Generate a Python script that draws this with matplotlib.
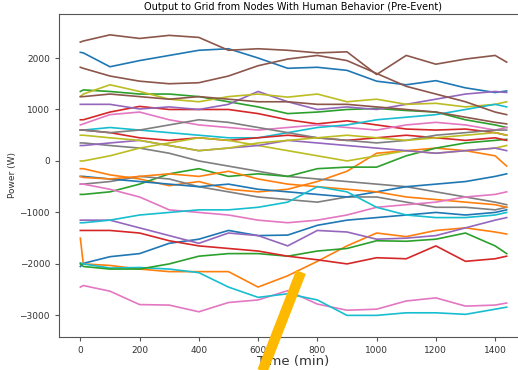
import matplotlib
matplotlib.use("Agg")
import matplotlib.pyplot as plt
from matplotlib.lines import Line2D

time_min = [0, 10, 100, 200, 300, 400, 500, 600, 700, 800, 900, 1000, 1100, 1200, 1300, 1400, 1439]

# node outputs (W), in plotting order (tab10 colour cycle)
blue_a   = [2110, 2100, 1830, 1950, 2050, 2150, 2180, 2000, 1800, 1820, 1760, 1550, 1480, 1560, 1420, 1330, 1360]
orange_a = [-150, -150, -270, -350, -480, -400, -550, -600, -550, -400, -200, 150, 200, 250, 200, 100, -100]
green_a  = [1350, 1380, 1350, 1300, 1300, 1250, 1150, 1050, 920, 950, 1000, 1020, 980, 950, 800, 700, 650]
red_a    = [800, 800, 950, 1060, 1000, 1000, 1000, 920, 800, 720, 780, 700, 620, 600, 620, 550, 500]
purple_a = [1100, 1100, 1100, 1010, 1050, 1000, 1100, 1350, 1150, 1000, 1050, 1000, 1100, 1200, 1300, 1350, 1330]
brown_a  = [2310, 2330, 2450, 2380, 2440, 2400, 2150, 2180, 2150, 2100, 2120, 1680, 2050, 1880, 1980, 2050, 1920]
pink_a   = [700, 720, 900, 950, 800, 700, 650, 600, 650, 700, 650, 600, 700, 750, 700, 600, 650]
gray_a   = [350, 350, 300, 250, 150, 0, -100, -200, -300, -350, -400, -450, -500, -600, -700, -800, -850]
olive_a  = [1250, 1300, 1480, 1350, 1200, 1150, 1250, 1300, 1240, 1300, 1150, 1200, 1100, 1120, 1050, 1100, 1150]
cyan_a   = [600, 600, 650, 600, 550, 500, 450, 450, 550, 650, 700, 800, 850, 900, 1000, 1100, 1050]

blue_b   = [-2050, -1990, -1860, -1800, -1600, -1520, -1350, -1450, -1440, -1250, -1150, -1100, -1050, -1000, -1050, -1000, -950]
orange_b = [-1500, -2000, -2030, -2100, -2150, -2150, -2150, -2450, -2230, -1950, -1650, -1400, -1470, -1350, -1300, -1380, -1420]
green_b  = [-650, -650, -600, -450, -250, -150, -300, -250, -300, -150, -120, -120, 100, 250, 350, 400, 420]
red_b    = [600, 600, 550, 450, 400, 450, 400, 450, 500, 450, 400, 450, 500, 450, 400, 450, 400]
purple_b = [-1150, -1150, -1150, -1300, -1450, -1600, -1400, -1450, -1650, -1350, -1380, -1520, -1500, -1450, -1300, -1150, -1100]
brown_b  = [1820, 1800, 1650, 1550, 1500, 1520, 1650, 1850, 1980, 2050, 1950, 1700, 1450, 1300, 1150, 950, 900]
pink_b   = [-2450, -2420, -2530, -2790, -2800, -2930, -2750, -2700, -2520, -2780, -2900, -2880, -2720, -2660, -2820, -2800, -2760]
gray_b   = [-450, -450, -400, -300, -350, -500, -600, -700, -750, -800, -700, -700, -800, -900, -900, -950, -900]
olive_b  = [0, 0, 100, 250, 350, 450, 400, 300, 200, 100, 0, 100, 200, 150, 200, 250, 300]
cyan_b   = [-1980, -2000, -2080, -2070, -2100, -2170, -2450, -2650, -2580, -2700, -3000, -3000, -2950, -2950, -2980, -2880, -2840]

blue_c   = [-300, -300, -350, -400, -450, -500, -450, -550, -600, -650, -700, -600, -500, -450, -400, -300, -250]
orange_c = [-300, -320, -350, -300, -250, -300, -200, -350, -450, -500, -550, -600, -700, -750, -800, -850, -900]
green_c  = [-2000, -2050, -2100, -2100, -2000, -1850, -1800, -1800, -1850, -1750, -1700, -1550, -1560, -1520, -1400, -1650, -1800]
red_c    = [-1350, -1350, -1350, -1400, -1550, -1650, -1700, -1750, -1850, -1920, -2000, -1880, -1900, -1650, -1950, -1900, -1850]
purple_c = [300, 300, 350, 400, 300, 200, 250, 300, 400, 350, 300, 250, 200, 150, 200, 250, 200]
brown_c  = [1250, 1250, 1300, 1250, 1200, 1250, 1200, 1150, 1150, 1100, 1100, 1050, 1000, 950, 850, 750, 720]
pink_c   = [-450, -450, -550, -700, -950, -1000, -1050, -1150, -1200, -1150, -1050, -900, -850, -800, -700, -650, -600]
gray_c   = [600, 600, 550, 600, 700, 800, 750, 650, 550, 450, 400, 350, 400, 500, 550, 600, 600]
olive_c  = [500, 500, 450, 400, 300, 200, 250, 350, 400, 450, 500, 450, 400, 450, 500, 550, 500]
cyan_c   = [-1200, -1200, -1150, -1050, -1000, -950, -950, -900, -800, -500, -600, -900, -1050, -1100, -1100, -1050, -1000]

series = [blue_a, orange_a, green_a, red_a, purple_a, brown_a, pink_a, gray_a, olive_a, cyan_a,
          blue_b, orange_b, green_b, red_b, purple_b, brown_b, pink_b, gray_b, olive_b, cyan_b,
          blue_c, orange_c, green_c, red_c, purple_c, brown_c, pink_c, gray_c, olive_c, cyan_c]

title = "Output to Grid from Nodes With Human Behavior (Pre-Event)"
xlabel = "Time (min)"
ylabel = "Power (W)"

W, H = 518, 370
fig = plt.figure(figsize=(W / 100, H / 100), dpi=100)
ax = fig.add_axes([59 / W, 1 - 337 / H, (528 - 59) / W, (337 - 14) / H])

for s in series:
    ax.plot(time_min, s, lw=1.2)

ax.set_xlim(-72, 1511)
ax.set_ylim(-3420, 2855)
ax.set_xticks([0, 200, 400, 600, 800, 1000, 1200, 1400])
ax.set_yticks([-3000, -2000, -1000, 0, 1000, 2000])
ax.tick_params(labelsize=6.5, labelcolor="#333333", length=3, color="#555555")
for sp in ax.spines.values():
    sp.set_color("#555555")
ax.set_title(title, fontsize=7, pad=3)
ax.set_xlabel(xlabel, fontsize=9.5, color="#333333", labelpad=0)
ax.set_ylabel(ylabel, fontsize=6.5, color="#333333", labelpad=2)

# yellow annotation stroke over the image
fig.add_artist(Line2D([262 / W, 301 / W], [1 - 372 / H, 1 - 272 / H], transform=fig.transFigure,
                      color="#FDB900", lw=7.5, solid_capstyle="butt"))

fig.savefig("out.png", dpi=100)
